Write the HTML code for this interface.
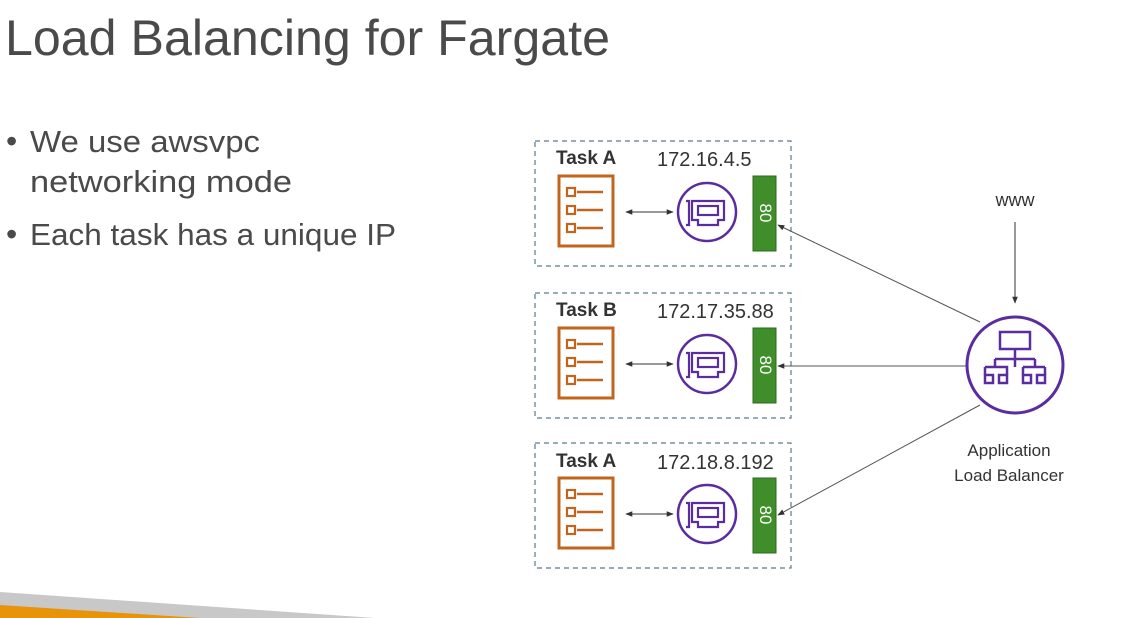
<!DOCTYPE html>
<html><head><meta charset="utf-8"><style>
html,body{margin:0;padding:0;background:#fff;}
svg{display:block;}
text{font-family:"Liberation Sans",sans-serif;}
</style></head><body>
<svg width="1130" height="618" viewBox="0 0 1130 618" xmlns="http://www.w3.org/2000/svg">
<defs>
<marker id="ah" viewBox="0 0 10 10" refX="9" refY="5" markerWidth="7" markerHeight="7" orient="auto-start-reverse"><path d="M0,1 L10,5 L0,9 z" fill="#333"/></marker>
<g id="task">
  <rect x="0" y="0" width="256" height="125" fill="none" stroke="#5a7a8a" stroke-width="1.2" stroke-dasharray="5,4"/>
  <rect x="24" y="35" width="54" height="70" fill="none" stroke="#c0641e" stroke-width="3"/>
  <rect x="32" y="47" width="8" height="8" fill="none" stroke="#c0641e" stroke-width="2.2"/>
  <rect x="32" y="65" width="8" height="8" fill="none" stroke="#c0641e" stroke-width="2.2"/>
  <rect x="32" y="83" width="8" height="8" fill="none" stroke="#c0641e" stroke-width="2.2"/>
  <line x1="42" y1="51" x2="68" y2="51" stroke="#c0641e" stroke-width="2.5"/>
  <line x1="42" y1="69" x2="68" y2="69" stroke="#c0641e" stroke-width="2.5"/>
  <line x1="42" y1="87" x2="68" y2="87" stroke="#c0641e" stroke-width="2.5"/>
  <line x1="91" y1="71" x2="138" y2="71" stroke="#333" stroke-width="1" marker-start="url(#ah)" marker-end="url(#ah)"/>
  <circle cx="172" cy="71" r="29" fill="none" stroke="#5a2ca0" stroke-width="2.5"/>
  <path d="M151,60 h3 v24 h-3" fill="none" stroke="#5a2ca0" stroke-width="2.2"/>
  <path d="M157,60 h32 v19 h-6 v5 h-20 v-5 h-6 z" fill="none" stroke="#5a2ca0" stroke-width="2.2"/>
  <rect x="163" y="65" width="20" height="9" fill="none" stroke="#5a2ca0" stroke-width="2.2"/>
  <rect x="218" y="35" width="23" height="75" fill="#3f8e2a" stroke="#2e6b1e" stroke-width="1"/>
  <text x="229.5" y="72" fill="#fff" font-size="17" text-anchor="middle" dominant-baseline="middle" transform="rotate(90 229.5 72)">80</text>
</g>
</defs>
<polygon points="0,592 375,618 0,618" fill="#c8c8c8"/>
<polygon points="0,605 200,618 0,618" fill="#e8940a"/>
<text x="5" y="55" font-size="50" fill="#4a4a4a" textLength="605" lengthAdjust="spacingAndGlyphs">Load Balancing for Fargate</text>
<text x="6" y="152" font-size="32" fill="#4a4a4a">•</text>
<text x="30" y="152" font-size="31" fill="#4a4a4a" textLength="230" lengthAdjust="spacingAndGlyphs">We use awsvpc</text>
<text x="30" y="192" font-size="31" fill="#4a4a4a" textLength="262" lengthAdjust="spacingAndGlyphs">networking mode</text>
<text x="6" y="245" font-size="32" fill="#4a4a4a">•</text>
<text x="30" y="245" font-size="31" fill="#4a4a4a" textLength="366" lengthAdjust="spacingAndGlyphs">Each task has a unique IP</text>

<use href="#task" x="535" y="141"/>
<use href="#task" x="535" y="293"/>
<use href="#task" x="535" y="443"/>
<text x="556" y="164" font-size="19" font-weight="bold" fill="#333">Task A</text>
<text x="556" y="316" font-size="19" font-weight="bold" fill="#333">Task B</text>
<text x="556" y="467" font-size="19" font-weight="bold" fill="#333">Task A</text>
<text x="657" y="166" font-size="20" fill="#333">172.16.4.5</text>
<text x="657" y="318" font-size="20" fill="#333">172.17.35.88</text>
<text x="657" y="469" font-size="20" fill="#333">172.18.8.192</text>

<text x="1015" y="206" font-size="18" fill="#333" text-anchor="middle">www</text>
<line x1="1015" y1="222" x2="1015" y2="303" stroke="#333" stroke-width="1" marker-end="url(#ah)"/>
<line x1="980" y1="322" x2="778" y2="225" stroke="#555" stroke-width="1" marker-end="url(#ah)"/>
<line x1="966" y1="366" x2="778" y2="366" stroke="#555" stroke-width="1" marker-end="url(#ah)"/>
<line x1="980" y1="405" x2="778" y2="515" stroke="#555" stroke-width="1" marker-end="url(#ah)"/>

<circle cx="1015" cy="365" r="48" fill="#fff" stroke="#5a2ca0" stroke-width="3"/>
<g fill="none" stroke="#5a2ca0" stroke-width="2.5">
<rect x="1000" y="332" width="30" height="17"/>
<path d="M1015,349 v10 M995,359 h40 M995,359 v8 M1035,359 v8 M1015,359 v8"/>
<rect x="985" y="375" width="8" height="8"/><rect x="999" y="375" width="8" height="8"/>
<rect x="1023" y="375" width="8" height="8"/><rect x="1037" y="375" width="8" height="8"/>
<path d="M985,367 h22 v8 M1023,367 h22 M1023,367 v8 M985,367 v8 M1045,367 v8"/>
</g>
<text x="1009" y="456" font-size="17" fill="#333" text-anchor="middle">Application</text>
<text x="1009" y="481" font-size="17" fill="#333" text-anchor="middle">Load Balancer</text>
</svg>
</body></html>
